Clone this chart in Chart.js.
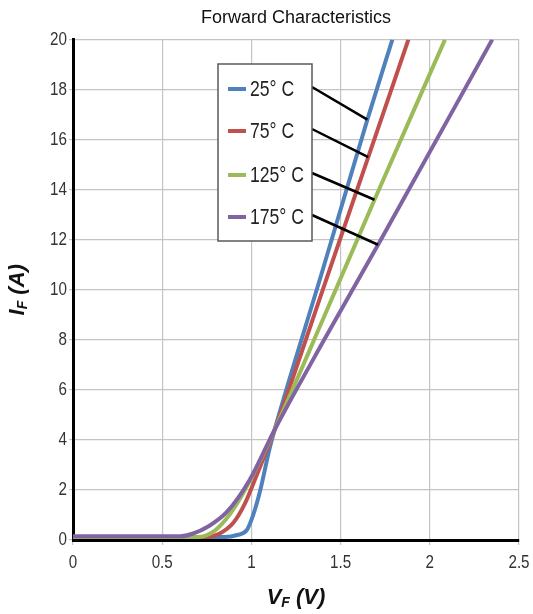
<!DOCTYPE html>
<html>
<head>
<meta charset="utf-8">
<script src="https://cdn.jsdelivr.net/npm/chart.js@4.4.1/dist/chart.umd.min.js"></script>
<style>
  html, body { margin: 0; padding: 0; background: #fff; }
  #wrap { width: 533px; height: 614px; }
</style>
</head>
<body>
<div id="wrap"><canvas id="fwdChart" width="533" height="614"></canvas></div>
<script>
// forward voltage (V) / forward current (A)
var seriesLabels = ['25° C', '75° C', '125° C', '175° C'];
var seriesColors = ['#4f81bd', '#c0504d', '#9bbb59', '#8064a2'];

var v25 = [0, 0.85, 0.92, 0.975, 1.01, 1.05, 1.1, 1.13, 1.4, 1.65, 1.79];
var i25 = [0.12, 0.12, 0.2, 0.4, 1.0, 2.0, 3.6, 4.4, 10.8, 16.8, 20];
var v75 = [0, 0.75, 0.82, 0.9, 0.96, 1.03, 1.13, 1.4, 1.655, 1.88];
var i75 = [0.12, 0.12, 0.25, 0.7, 1.4, 2.6, 4.4, 10.0, 15.3, 20];
var v125 = [0, 0.7, 0.78, 0.86, 0.94, 1.03, 1.13, 1.4, 1.69, 2.085];
var i125 = [0.12, 0.12, 0.3, 0.85, 1.7, 2.9, 4.4, 8.8, 13.6, 20];
var v175 = [0, 0.6, 0.67, 0.76, 0.86, 0.99, 1.13, 1.4, 1.71, 2.35];
var i175 = [0.15, 0.15, 0.25, 0.55, 1.1, 2.4, 4.4, 7.9, 11.8, 20];

// index of the point each legend callout line points at
var calloutIdx = [9, 8, 8, 8];

var xTicks = [0, 0.5, 1, 1.5, 2, 2.5];
var yTicks = [0, 2, 4, 6, 8, 10, 12, 14, 16, 18, 20];

var sans = 'Arial, "Liberation Sans", sans-serif';

function pts(xs, ys) {
  return xs.map(function (x, k) { return { x: x, y: ys[k] }; });
}

var allV = [v25, v75, v125, v175];
var allI = [i25, i75, i125, i175];

var datasets = allV.map(function (xs, k) {
  return {
    label: seriesLabels[k],
    data: pts(xs, allI[k]),
    borderColor: seriesColors[k],
    backgroundColor: seriesColors[k],
    borderWidth: 4,
    pointRadius: 0,
    cubicInterpolationMode: 'monotone',
    fill: false,
    order: 4 - k
  };
});

// squeezed text, the source uses a narrow face
function narrowText(ctx, txt, x, y, size, align) {
  var sx = 0.8;
  ctx.save();
  ctx.font = size + 'px ' + sans;
  var w = ctx.measureText(txt).width * sx;
  var left = align === 'right' ? x - w : align === 'center' ? x - w / 2 : x;
  ctx.translate(left, y);
  ctx.scale(sx, 1);
  ctx.textAlign = 'left';
  ctx.textBaseline = 'middle';
  ctx.fillText(txt, 0, 0);
  ctx.restore();
}

var extras = {
  id: 'extras',
  afterDraw: function (chart) {
    var ctx = chart.ctx;
    var a = chart.chartArea;
    var xs = chart.scales.x, ys = chart.scales.y;
    ctx.save();

    // tick labels
    ctx.fillStyle = '#333';
    yTicks.forEach(function (v) {
      narrowText(ctx, String(v), a.left - 6, ys.getPixelForValue(v), 19, 'right');
    });
    xTicks.forEach(function (v) {
      narrowText(ctx, String(v), xs.getPixelForValue(v), a.bottom + 23, 19, 'center');
    });

    // legend box with callout lines
    var bx = 218, by = 64, bw = 94, bh = 177;
    var rowY = [89, 131, 175, 217];

    ctx.strokeStyle = '#000';
    ctx.lineWidth = 2.5;
    rowY.forEach(function (y, k) {
      var p = chart.getDatasetMeta(k).data[calloutIdx[k]];
      ctx.beginPath();
      ctx.moveTo(bx + bw, y - 2);
      ctx.lineTo(p.x, p.y);
      ctx.stroke();
    });

    ctx.fillStyle = '#fff';
    ctx.fillRect(bx, by, bw, bh);
    ctx.strokeStyle = '#595959';
    ctx.lineWidth = 1.5;
    ctx.strokeRect(bx, by, bw, bh);

    rowY.forEach(function (y, k) {
      ctx.strokeStyle = seriesColors[k];
      ctx.lineWidth = 4;
      ctx.beginPath();
      ctx.moveTo(228, y);
      ctx.lineTo(246, y);
      ctx.stroke();
      ctx.fillStyle = '#222';
      narrowText(ctx, seriesLabels[k], 250, y + 1, 22, 'left');
    });

    // axis titles with subscript F
    ctx.fillStyle = '#111';
    ctx.translate(18, (a.top + a.bottom) / 2);
    ctx.rotate(-Math.PI / 2);
    drawSub(ctx, 'I', 'F', ' (A)');
    ctx.setTransform(1, 0, 0, 1, 0, 0);

    ctx.translate((a.left + a.right) / 2, 598);
    drawSub(ctx, 'V', 'F', ' (V)');
    ctx.restore();
  }
};

function drawSub(ctx, main, sub, rest) {
  var big = 'italic bold 22px ' + sans;
  var small = 'italic bold 14px ' + sans;
  ctx.textBaseline = 'middle';
  ctx.textAlign = 'left';
  ctx.font = big;
  var w1 = ctx.measureText(main).width;
  var w3 = ctx.measureText(rest).width;
  ctx.font = small;
  var w2 = ctx.measureText(sub).width;
  var x = -(w1 + w2 + w3) / 2;
  ctx.font = big;
  ctx.fillText(main, x, 0);
  ctx.font = small;
  ctx.fillText(sub, x + w1, 5);
  ctx.font = big;
  ctx.fillText(rest, x + w1 + w2, 0);
}

new Chart(document.getElementById('fwdChart'), {
  type: 'line',
  data: { datasets: datasets },
  plugins: [extras],
  options: {
    responsive: false,
    animation: false,
    events: [],
    layout: { padding: { left: 0, right: 14, top: 0, bottom: 0 } },
    plugins: {
      legend: { display: false },
      tooltip: { enabled: false },
      title: {
        display: true,
        text: 'Forward Characteristics',
        fullSize: false,
        color: '#111',
        font: { family: sans, size: 18, weight: 'normal' },
        padding: { top: 7, bottom: 11 }
      }
    },
    scales: {
      x: {
        type: 'linear',
        min: 0,
        max: 2.5,
        afterFit: function (s) { s.height = 74; s.paddingLeft = 0; s.paddingRight = 0; },
        afterBuildTicks: function (s) { s.ticks = xTicks.map(function (v) { return { value: v }; }); },
        ticks: { color: 'rgba(0,0,0,0)', font: { size: 12 }, maxRotation: 0 },
        grid: { color: '#c4c4c4', lineWidth: 1.2, tickLength: 5, tickColor: '#c4c4c4' },
        border: { color: '#000', width: 3 }
      },
      y: {
        type: 'linear',
        min: 0,
        max: 20,
        afterFit: function (s) { s.width = 73; s.paddingTop = 0; s.paddingBottom = 0; },
        afterBuildTicks: function (s) { s.ticks = yTicks.map(function (v) { return { value: v }; }); },
        ticks: { color: 'rgba(0,0,0,0)', font: { size: 12 } },
        grid: { color: '#c4c4c4', lineWidth: 1.2, tickLength: 4, tickColor: '#c4c4c4' },
        border: { color: '#000', width: 3 }
      }
    }
  }
});
</script>
</body>
</html>
